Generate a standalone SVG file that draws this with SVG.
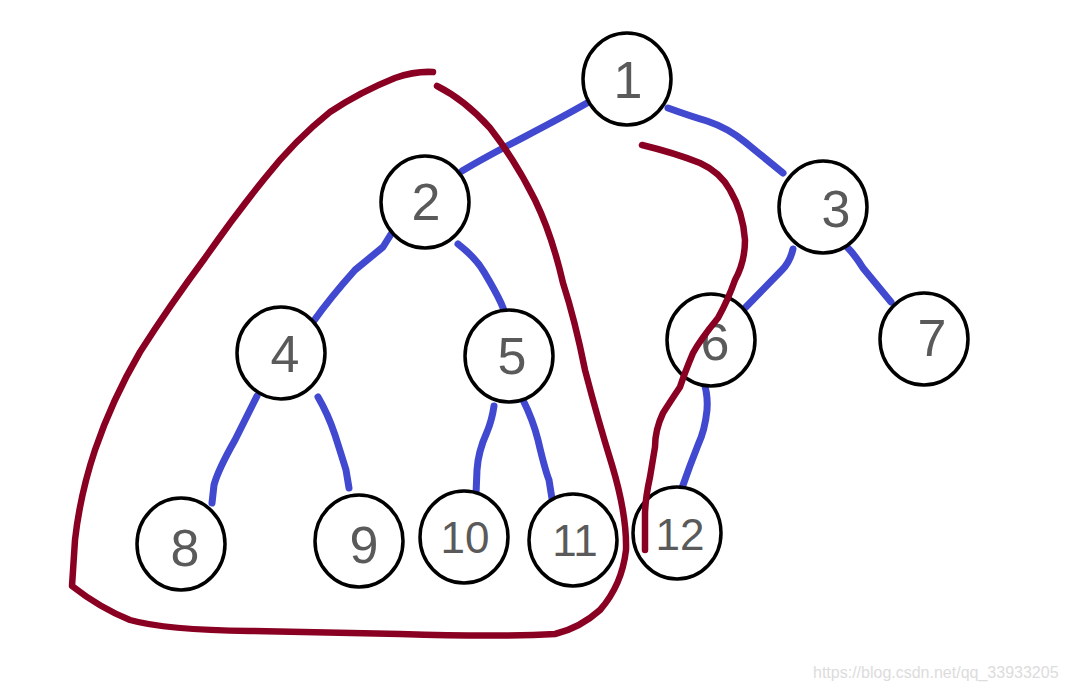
<svg xmlns="http://www.w3.org/2000/svg" width="1065" height="691" viewBox="0 0 1065 691">
<style>
.node ellipse{fill:#fff;stroke:#000;stroke-width:3.5}
.node text{font-family:"Liberation Sans",Arial,sans-serif;font-size:52px;fill:#5a5a5a;text-anchor:middle}
.node text.two{font-size:44px}
.edge{fill:none;stroke:#4049cf;stroke-width:7;stroke-linecap:round;stroke-linejoin:round}
.loop{fill:none;stroke:#8a0022;stroke-width:6.5;stroke-linecap:round;stroke-linejoin:round}
.wm{font-family:"Liberation Sans",Arial,sans-serif;font-size:16px;fill:#dcdcdc}
</style>
<rect width="1065" height="691" fill="#fff"/>
<g id="connectors">
<path class="edge" d="M462,171 C500,148 540,130 587,103"/>
<path class="edge" d="M668,108 Q690,116 707,121 Q728,128 745,142 L783,173"/>
<path class="edge" d="M393,231 L383,247 L355,270 Q330,298 313,322"/>
<path class="edge" d="M458,244 Q476,258 484,272 Q496,292 501,303 Q505,312 506,318"/>
<path class="edge" d="M793,249 Q790,262 782,270 L743,310"/>
<path class="edge" d="M847,247 Q855,255 863,268 L891,302"/>
<path class="edge" d="M257,396 Q245,420 235,440 Q218,470 214,485 L212,503"/>
<path class="edge" d="M318,397 Q328,414 335,435 Q343,460 346,470 L349,488"/>
<path class="edge" d="M494,406 Q492,420 487,432 Q478,452 477,470 L476,494"/>
<path class="edge" d="M523,400 Q533,420 538,440 Q545,470 549,480 L553,505"/>
<path class="edge" d="M705,386 Q708,398 707,410 Q705,430 698,445 Q690,465 682,488"/>
</g>
<g id="n1" class="node"><ellipse cx="627" cy="79" rx="44" ry="46"/><text x="628" y="98">1</text></g>
<g id="n2" class="node"><ellipse cx="425" cy="202" rx="44" ry="46"/><text x="426" y="220">2</text></g>
<g id="n3" class="node"><ellipse cx="823" cy="207" rx="44" ry="46"/><text x="836" y="227">3</text></g>
<g id="n4" class="node"><ellipse cx="281" cy="353" rx="44" ry="46"/><text x="285" y="372">4</text></g>
<g id="n5" class="node"><ellipse cx="509" cy="356" rx="44" ry="46"/><text x="512" y="374">5</text></g>
<g id="n6" class="node"><ellipse cx="711" cy="340" rx="44" ry="46"/><text x="715" y="360">6</text></g>
<g id="n7" class="node"><ellipse cx="924" cy="339" rx="44" ry="46"/><text x="932" y="356">7</text></g>
<g id="n8" class="node"><ellipse cx="181" cy="544" rx="44" ry="46"/><text x="185" y="566">8</text></g>
<g id="n9" class="node"><ellipse cx="359" cy="541" rx="44" ry="46"/><text x="364" y="563">9</text></g>
<g id="n10" class="node"><ellipse cx="464" cy="537" rx="44" ry="46"/><text class="two" x="465" y="553">10</text></g>
<g id="n11" class="node"><ellipse cx="573" cy="540" rx="44" ry="46"/><text class="two" x="575" y="556">11</text></g>
<g id="n12" class="node"><ellipse cx="677" cy="533" rx="44" ry="46"/><text class="two" x="680" y="550">12</text></g>
<g id="marks">
<path class="loop" d="M433,72 Q415,71 395,78 Q360,92 330,112 Q295,140 265,178 Q235,215 205,258 Q170,305 140,352 Q112,400 95,450 Q80,495 75,540 L72,586 Q100,608 130,620 Q165,630 250,631 L400,634 Q500,637 555,634 Q580,628 600,610 Q622,585 626,550 Q627,515 612,465 Q598,420 585,370 Q575,320 563,283 Q552,235 535,200 Q515,160 490,128 Q465,100 437,86"/>
<path class="loop" d="M642,145 Q675,153 700,163 Q720,172 730,190 Q743,212 745,240 Q745,262 735,280 Q728,300 718,318 Q700,340 693,353 Q685,372 680,387 Q670,402 663,413 Q655,430 655,447 Q652,465 650,477 Q645,500 645,515 L645,550"/>
</g>
<text class="wm" x="813" y="678">https://blog.csdn.net/qq_33933205</text>
</svg>
